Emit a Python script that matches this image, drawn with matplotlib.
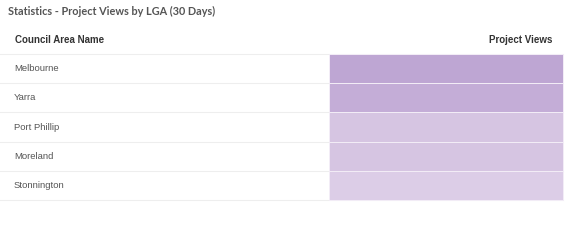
import numpy as np
import matplotlib.pyplot as plt
from matplotlib.colors import LinearSegmentedColormap, Normalize

# Data: council areas and relative project views (read from cell shading)
councils = ["Melbourne", "Yarra", "Port Phillip", "Moreland", "Stonnington"]
views = [10, 8.5, 3.8, 3.8, 2.2]

title = "Statistics - Project Views by LGA (30 Days)"
col_headers = ["Council Area Name", "Project Views"]

fig = plt.figure(figsize=(5.8, 2.48), dpi=100)
ax = fig.add_axes([0, 0, 1, 1])
ax.set_xlim(0, 580)
ax.set_ylim(248, 0)
ax.axis("off")

cmap = LinearSegmentedColormap.from_list("views", ["#e4d8ec", "#bea6d3"])
norm = Normalize(vmin=0, vmax=10)

top = 54
row_h = 29.2
n = len(councils)
y_edges = top + row_h * np.arange(n + 1)
x_edges = np.array([329, 563])

# row separators
for y in y_edges:
    ax.plot([0, 563], [y, y], color="#eeeeee", lw=0.8, zorder=0)

# colour column
vals = np.array(views).reshape(-1, 1)
ax.pcolormesh(x_edges, y_edges, vals, cmap=cmap, norm=norm,
              edgecolor="#f2ecf6", linewidth=0.5, zorder=1)

# text
ax.text(8, 11, title, fontsize=7.8, family="Lato", fontweight="bold",
        color="#555555", va="center", ha="left")
ax.text(15, 40, col_headers[0], fontsize=7.0, family="Liberation Sans",
        fontweight="bold", color="#333333", va="center", ha="left")
ax.text(552, 40, col_headers[1], fontsize=7.0, family="Liberation Sans",
        fontweight="bold", color="#333333", va="center", ha="right")

for i, name in enumerate(councils):
    yc = (y_edges[i] + y_edges[i + 1]) / 2
    ax.text(14, yc, name, fontsize=6.8, family="Liberation Sans",
            color="#555555", va="center", ha="left")

fig.savefig("out.png", dpi=100, facecolor="white")
